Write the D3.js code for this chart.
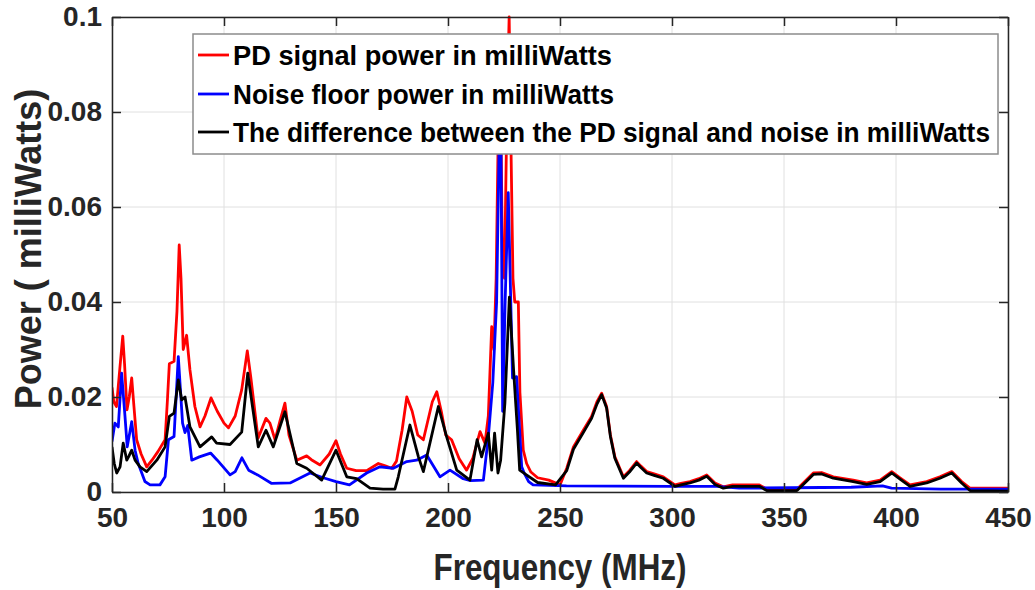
<!DOCTYPE html>
<html><head><meta charset="utf-8">
<script src="https://cdn.jsdelivr.net/npm/d3@7"></script>
<style>body{margin:0;background:#fff}svg{display:block}text{font-family:"Liberation Sans",Arial,sans-serif;font-weight:bold;fill:#262626}</style>
</head><body><svg id="c" width="1035" height="590"></svg>
<script>
const xTicks = [50,100,150,200,250,300,350,400,450];
const yTicks = [0,0.02,0.04,0.06,0.08,0.1];
const yTickLabels = ["0","0.02","0.04","0.06","0.08","0.1"];
const seriesNames = ["PD signal power in milliWatts","Noise floor power in milliWatts","The difference between the PD signal and noise in milliWatts"];
const seriesColors = ["#ff0000","#0000ff","#000000"];

const redFreq = [50,50.8,52,53.5,54.8,55.6,56.7,57.7,58.8,59.8,61,63,65.5,68,70.5,73.7,74.7,75.6,77.7,79,80,80.8,81.8,83.3,84.8,87,89.3,91.5,94.2,97,100,102,105,107.9,110.4,112,115.2,118.75,120.5,122.8,125,127.2,129,132.5,136.9,139,142.9,147,150,152,154.8,159,163.7,168.9,172,174.9,177,179.5,181.6,184,186.5,189,191,193,195,197,199,201.6,205,208.3,211,214.3,216.5,218,219.5,220.5,221.5,222.5,223.3,224.3,225.2,226.3,227.3,228.2,229,229.8,231.4,232.1,233.6,235.1,237,240,245,250,253,256,260.4,264.1,266.5,268.6,270.8,272.5,274.5,278.3,281,284.2,286,288.7,292,296.1,301.3,304,308,312,315.5,319.2,322.9,327,339,342.3,355.8,358.6,363.1,366.8,372,380.9,386.9,392.9,398.1,401.8,406.25,413.7,419.6,424.9,429.3,433,450];
const redPower = [0.022,0.019,0.018,0.026,0.0328,0.027,0.0173,0.020,0.024,0.018,0.011,0.008,0.0053,0.0068,0.0085,0.011,0.019,0.027,0.0275,0.038,0.052,0.045,0.030,0.033,0.0257,0.018,0.0137,0.016,0.0198,0.017,0.0145,0.0135,0.016,0.0215,0.0297,0.024,0.0113,0.0155,0.0145,0.011,0.015,0.0187,0.012,0.0067,0.0076,0.0068,0.0057,0.008,0.0108,0.008,0.005,0.0045,0.0045,0.006,0.0055,0.005,0.0065,0.013,0.020,0.017,0.012,0.011,0.015,0.019,0.0211,0.017,0.012,0.011,0.007,0.0046,0.007,0.0127,0.0103,0.016,0.0348,0.030,0.045,0.078,0.09,0.05,0.045,0.08,0.1,0.07,0.045,0.040,0.040,0.021,0.0088,0.006,0.0042,0.003,0.0025,0.0015,0.005,0.0095,0.013,0.0159,0.019,0.0208,0.018,0.012,0.0074,0.0032,0.0045,0.0064,0.0055,0.0043,0.0038,0.0032,0.0015,0.0018,0.0022,0.0028,0.0036,0.0019,0.0011,0.0015,0.0015,0.0006,0.0006,0.0019,0.004,0.0041,0.0032,0.0025,0.0019,0.0025,0.0043,0.003,0.0015,0.0022,0.0032,0.0043,0.0022,0.0008,0.0008];

const blueFreq = [50,51.3,52.8,54.3,55.8,56.8,58.8,60.3,61.7,64.7,67,71.4,73.7,75.2,77.7,79.6,81.5,82.6,83.8,85.6,89,94,97,102.7,105,108,111,115,121.3,129.5,138.4,144.3,150,156,163.7,169.6,175.6,181.6,186,190.5,196.4,200.9,206.8,210,215.8,218,220,221.7,222.9,223.5,224.4,225.5,226.9,228.8,230.6,232.9,234,236,238,252.9,300,320,330,380,394,398,420,450];
const bluePower = [0.0106,0.0145,0.0137,0.025,0.0159,0.0095,0.0148,0.0088,0.006,0.0022,0.0015,0.0015,0.0032,0.011,0.0117,0.0285,0.0145,0.0125,0.014,0.0067,0.0074,0.0082,0.0067,0.0036,0.0043,0.0072,0.0046,0.0036,0.0018,0.0019,0.004,0.003,0.0022,0.0015,0.004,0.0053,0.005,0.0064,0.0067,0.0078,0.0032,0.0046,0.0028,0.0024,0.0025,0.0116,0.023,0.040,0.075,0.085,0.017,0.040,0.063,0.024,0.0243,0.0053,0.004,0.0022,0.0015,0.0013,0.0012,0.0012,0.0008,0.001,0.0013,0.0008,0.0006,0.0006];

const diffFreq = [50,51,52.1,53.6,55,56.6,57.5,58.8,60.3,62.5,65.5,70,73.7,75.6,77.7,79.6,81.1,82.6,84.8,89.3,94.5,96.7,102.7,107.9,110.6,115.3,118.75,122,127.2,132.5,136.9,143.6,150,154.8,159.2,165.2,171,176.3,177.8,183,186.8,189,195.7,199.4,203.9,209.8,213,215,218,219.5,220.8,222.3,223.5,225.4,227.4,228.5,229.5,231,232,235,240,248,253,256,260.4,264.1,266.5,268.6,270.8,272.5,274.5,278.3,281,284.2,286,288.7,292,296.1,301.3,304,308,312,315.5,319.2,322.9,327,339,342.3,355.8,358.6,363.1,366.8,372,380.9,386.9,392.9,398.1,401.8,406.25,413.7,419.6,424.9,429.3,433,450];
const diffPower = [0.0095,0.006,0.004,0.0053,0.0103,0.0067,0.0075,0.0088,0.0067,0.0053,0.0043,0.0067,0.0095,0.0159,0.0166,0.0236,0.0194,0.020,0.0137,0.0095,0.0116,0.0103,0.010,0.0126,0.025,0.0095,0.013,0.0095,0.0169,0.006,0.005,0.0025,0.0088,0.0032,0.0028,0.0008,0.0006,0.0006,0.0032,0.0141,0.0074,0.0043,0.018,0.0116,0.0046,0.0025,0.011,0.0074,0.0124,0.0046,0.0124,0.004,0.0067,0.0187,0.041,0.032,0.024,0.013,0.0046,0.0036,0.002,0.0015,0.0045,0.009,0.0125,0.0155,0.0185,0.0205,0.0177,0.0117,0.0071,0.0029,0.0042,0.0061,0.0052,0.004,0.0035,0.0029,0.0012,0.0015,0.0019,0.0025,0.0033,0.0016,0.0008,0.0012,0.0012,0.0003,0.0003,0.0016,0.0037,0.0038,0.0029,0.0022,0.0016,0.0022,0.004,0.0027,0.0012,0.0019,0.0029,0.004,0.0019,0.0003,0.0002];

const m = {l:112, r:1008, t:17, b:492};
const svg = d3.select("#c");
const x = d3.scaleLinear().domain([50,450]).range([m.l,m.r]);
const y = d3.scaleLinear().domain([0,0.1]).range([m.b,m.t]);

// grid
const g = svg.append("g");
g.selectAll(".gx").data(xTicks).join("line").attr("x1",d=>x(d)).attr("x2",d=>x(d)).attr("y1",m.t).attr("y2",m.b).attr("stroke","#e0e0e0").attr("stroke-width",1);
g.selectAll(".gy").data(yTicks).join("line").attr("y1",d=>y(d)).attr("y2",d=>y(d)).attr("x1",m.l).attr("x2",m.r).attr("stroke","#e0e0e0").attr("stroke-width",1);

// lines
const series = [[redFreq,redPower],[blueFreq,bluePower],[diffFreq,diffPower]];
svg.append("clipPath").attr("id","cp").append("rect").attr("x",m.l).attr("y",m.t-6).attr("width",m.r-m.l).attr("height",m.b-m.t+6);
const line = d3.line().x(d=>x(d[0])).y(d=>y(d[1]));
series.forEach((s,i)=>{
  const pts = s[0].map((f,j)=>[f,s[1][j]]);
  svg.append("path").datum(pts).attr("d",line).attr("fill","none").attr("stroke",seriesColors[i]).attr("stroke-width",2.8).attr("stroke-linejoin","round").attr("clip-path","url(#cp)");
});

// axes
const ax = svg.append("g").attr("class","axes");
const xb = d3.axisBottom(x).tickValues(xTicks).tickSizeInner(-9).tickSizeOuter(0).tickPadding(15);
const xt = d3.axisTop(x).tickValues(xTicks).tickSizeInner(-9).tickSizeOuter(0).tickFormat("");
const yl = d3.axisLeft(y).tickValues(yTicks).tickSizeInner(-9).tickSizeOuter(0).tickPadding(10).tickFormat((d,i)=>yTickLabels[i]);
const yr = d3.axisRight(y).tickValues(yTicks).tickSizeInner(-9).tickSizeOuter(0).tickFormat("");
[[xb,`translate(0,${m.b})`],[xt,`translate(0,${m.t})`],[yl,`translate(${m.l},0)`],[yr,`translate(${m.r},0)`]].forEach(([a,t])=>{
  const gg = ax.append("g").attr("transform",t).call(a);
  gg.select(".domain").attr("stroke","#262626").attr("stroke-width",1.5);
  gg.selectAll(".tick line").attr("stroke","#262626").attr("stroke-width",1.5);
  gg.selectAll(".tick text").style("font-size","28px").style("font-family","'Liberation Sans',Arial,sans-serif").style("font-weight","bold").attr("fill","#262626");
});

// axis labels
svg.append("text").attr("x",(m.l+m.r)/2).attr("y",580).attr("text-anchor","middle").style("font-size","36px").attr("textLength",253).attr("lengthAdjust","spacingAndGlyphs").text("Frequency (MHz)");
svg.append("text").attr("transform","translate(41,249) rotate(-90)").attr("text-anchor","middle").style("font-size","36px").text("Power ( milliWatts)");

// legend
const legendLen = [379,381,757];
const lg = svg.append("g");
lg.append("rect").attr("x",193).attr("y",34).attr("width",805).attr("height",120).attr("fill","#fff").attr("stroke","#8c8c8c").attr("stroke-width",1.5);
const rowsY = [55,94,132];
seriesNames.forEach((n,i)=>{
  lg.append("line").attr("x1",198).attr("x2",229).attr("y1",rowsY[i]).attr("y2",rowsY[i]).attr("stroke",seriesColors[i]).attr("stroke-width",2.8);
  lg.append("text").attr("x",233).attr("y",rowsY[i]+10).style("font-size","27px").style("fill","#000").attr("textLength",legendLen[i]).attr("lengthAdjust","spacingAndGlyphs").text(n);
});
</script></body></html>
